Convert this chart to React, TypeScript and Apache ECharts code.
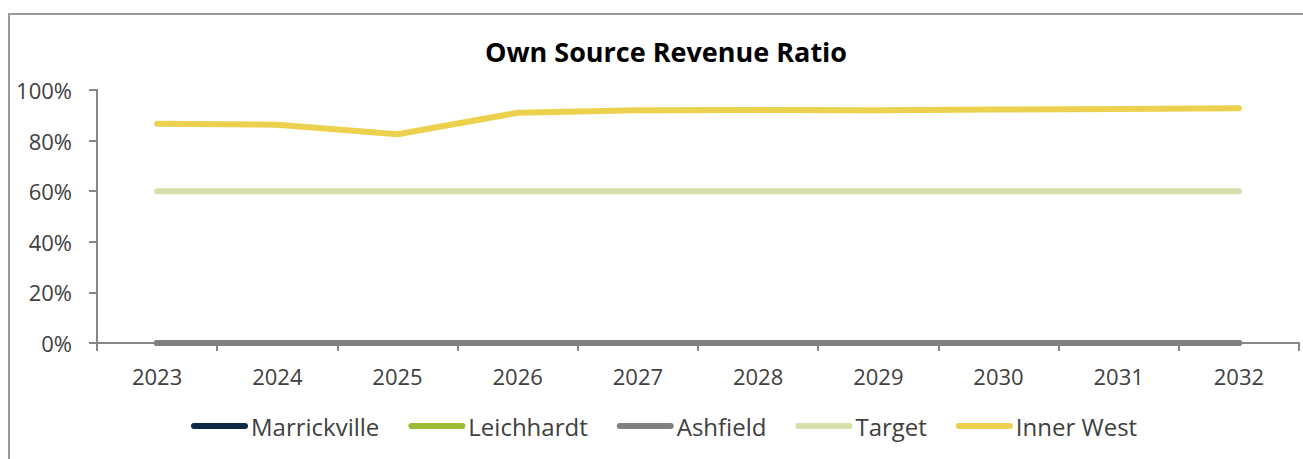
import React, { useEffect, useRef } from "react";
import * as echarts from "echarts";

const years = ["2023", "2024", "2025", "2026", "2027", "2028", "2029", "2030", "2031", "2032"];
const marrickville = [0, 0, 0, 0, 0, 0, 0, 0, 0, 0];
const leichhardt = [0, 0, 0, 0, 0, 0, 0, 0, 0, 0];
const ashfield = [0, 0, 0, 0, 0, 0, 0, 0, 0, 0];
const target = [60, 60, 60, 60, 60, 60, 60, 60, 60, 60];
const innerWest = [86.7, 86.3, 82.5, 91.0, 92.0, 92.1, 92.0, 92.3, 92.5, 92.8];
const yTicks = [0, 20, 40, 60, 80, 100];

const seriesDefs = [
  { name: "Marrickville", data: marrickville, color: "#0c2a44" },
  { name: "Leichhardt", data: leichhardt, color: "#9bbb35" },
  { name: "Ashfield", data: ashfield, color: "#808083" },
  { name: "Target", data: target, color: "#d4dfa9" },
  { name: "Inner West", data: innerWest, color: "#ecd14f" },
];

const FONT = "'Open Sans', sans-serif";
const capsule = "path://M3,0 L54,0 A3,3 0 0 1 54,6 L3,6 A3,3 0 0 1 3,0 Z";

export default function App() {
  const ref = useRef<HTMLDivElement>(null);
  useEffect(() => {
    if (!ref.current) return;
    const chart = echarts.init(ref.current, null, { renderer: "svg" });
    chart.setOption({
      animation: false,
      backgroundColor: "#ffffff",
      title: {
        text: "Own Source Revenue Ratio",
        left: 661,
        top: 33,
        textAlign: "center",
        textStyle: { fontFamily: FONT, fontSize: 27, fontWeight: "bold", color: "#000000" },
      },
      graphic: [
        {
          type: "rect",
          shape: { x: 9, y: 14, width: 1400, height: 600 },
          style: { fill: "none", stroke: "#9a9a9a", lineWidth: 2 },
          silent: true,
        },
      ],
      legend: {
        left: 186,
        top: 409,
        itemWidth: 57,
        itemHeight: 6,
        itemGap: 29,
        icon: capsule,
        textStyle: { fontFamily: FONT, fontSize: 24, color: "#404040", padding: [0, 0, 0, -2] },
        data: seriesDefs.map((s) => s.name),
      },
      grid: { left: 97, right: 4, top: 90, bottom: 116, containLabel: false },
      xAxis: {
        type: "category",
        data: years,
        boundaryGap: true,
        axisLine: { lineStyle: { color: "#868686", width: 2 } },
        axisTick: { show: true, length: 8, lineStyle: { color: "#868686", width: 2 } },
        axisLabel: { fontFamily: FONT, fontSize: 22, color: "#404040", margin: 22 },
      },
      yAxis: {
        type: "value",
        min: 0,
        max: 100,
        interval: 20,
        axisLine: { show: true, lineStyle: { color: "#868686", width: 2 } },
        axisTick: { show: true, length: 8, lineStyle: { color: "#868686", width: 2 } },
        splitLine: { show: false },
        axisLabel: {
          fontFamily: FONT,
          fontSize: 22,
          color: "#404040",
          margin: 25,
          formatter: (v: number) => (yTicks.includes(v) ? v + "%" : ""),
        },
      },
      series: seriesDefs.map((s) => ({
        name: s.name,
        type: "line",
        data: s.data,
        showSymbol: false,
        symbol: "none",
        color: s.color,
        lineStyle: { color: s.color, width: 6, cap: "round", join: "round" },
        itemStyle: { color: s.color },
      })),
    });
    return () => chart.dispose();
  }, []);
  return (
    <div
      ref={ref}
      style={{ position: "fixed", left: 0, top: 0, width: 1303, height: 459, background: "#fff" }}
    />
  );
}
